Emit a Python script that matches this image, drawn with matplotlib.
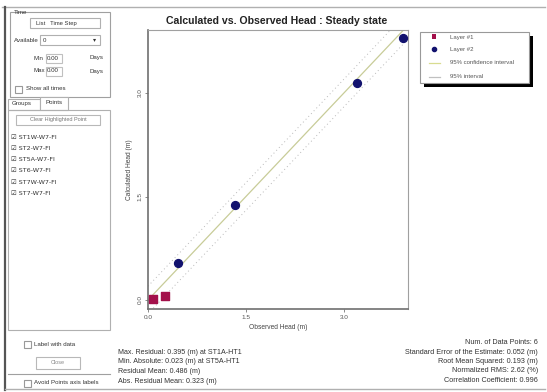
import matplotlib
matplotlib.use("Agg")
import matplotlib.pyplot as plt
from matplotlib.patches import Rectangle
from matplotlib.lines import Line2D

plt.rcParams['font.family'] = ['Liberation Sans', 'DejaVu Sans']

# ---------------- data ----------------
layer1_obs = [0.08, 0.26]
layer1_calc = [0.02, 0.06]
layer2_obs = [0.46, 1.33, 3.20, 3.90]
layer2_calc = [0.54, 1.38, 3.14, 3.80]
x_ticks = [0.0, 1.5, 3.0]
y_ticks = [0.0, 1.5, 3.0]
tick_labels = ["0.0", "1.5", "3.0"]
conf = 0.20
point_names = ["ST1W-W7-FI", "ST2-W7-FI", "ST5A-W7-FI", "ST6-W7-FI", "ST7W-W7-FI", "ST7-W7-FI"]
left_stats = ["Max. Residual: 0.395 (m) at ST1A-HT1",
              "Min. Absolute: 0.023 (m) at ST5A-HT1",
              "Residual Mean: 0.486 (m)",
              "Abs. Residual Mean: 0.323 (m)"]
right_stats = ["Num. of Data Points: 6",
               "Standard Error of the Estimate: 0.052 (m)",
               "Root Mean Squared: 0.193 (m)",
               "Normalized RMS: 2.62 (%)",
               "Correlation Coefficient: 0.996"]
legend_labels = ["Layer #1", "Layer #2", "95% confidence interval", "95% interval"]

W, H = 547, 392
fig = plt.figure(figsize=(W / 100, H / 100), dpi=100)
fig.patch.set_facecolor("white")

def fx(x):
    return x / W

def fy(y):
    return 1 - y / H

def rect(x0, y0, x1, y1, ec="#a0a0a0", fc="none", lw=0.8, z=1):
    fig.patches.append(Rectangle((fx(x0), fy(y1)), fx(x1) - fx(x0), fy(y0) - fy(y1),
                                 transform=fig.transFigure, ec=ec, fc=fc, lw=lw, zorder=z))

def line(x0, y0, x1, y1, c="#a0a0a0", lw=0.8):
    fig.lines.append(Line2D([fx(x0), fx(x1)], [fy(y0), fy(y1)], transform=fig.transFigure,
                            color=c, lw=lw))

def txt(x, y, s, size=4.6, ha="left", color="#333333", **kw):
    fig.text(fx(x), fy(y), s, fontsize=size, ha=ha, va="center", color=color, **kw)

# ---------- outer frame ----------
line(2, 7, 545, 7, c="#b0b0b0", lw=1.0)
line(5, 7, 5, 390, c="#555555", lw=1.6)
line(5, 389, 545, 389, c="#b0b0b0", lw=1.0)

# ---------- left panel ----------
rect(10, 12, 110, 97)
txt(14, 12, "Time", size=4.4)
rect(30, 18, 100, 28, ec="#b0b0b0")
txt(36, 23, "List   Time Step", size=4.2)
txt(14, 40, "Available", size=4.4)
rect(40, 35, 100, 45, ec="#b0b0b0")
txt(43, 40, "0", size=4.4)
txt(96, 40, "▾", size=4.4, ha="right")
txt(34, 58, "Min", size=4.4)
rect(46, 54, 62, 63, ec="#c0c0c0")
txt(47, 58, "0.00", size=4.4)
txt(90, 58, "Days", size=4.4)
txt(34, 71, "Max", size=4.4)
rect(46, 67, 62, 76, ec="#c0c0c0")
txt(47, 71, "0.00", size=4.4)
txt(90, 71, "Days", size=4.4)
rect(15, 86, 22, 93, ec="#999999")
txt(26, 89, "Show all times", size=4.4)

# tabs
rect(8, 99, 40, 110, ec="#b0b0b0")
txt(12, 104, "Groups", size=4.4)
rect(40, 97, 68, 110, ec="#b0b0b0", fc="white")
txt(45, 103, "Points", size=4.4)
rect(8, 110, 110, 330, ec="#b0b0b0")
rect(16, 115, 100, 125, ec="#b8b8b8")
txt(58, 120, "Clear Highlighted Point", size=4.0, ha="center", color="#777777")
for i, name in enumerate(point_names):
    txt(11, 137 + i * 11.3, "\u2611 " + name, size=4.6, family=['DejaVu Sans'])

rect(24, 341, 31, 348, ec="#999999")
txt(34, 345, "Label with data", size=4.4)
rect(36, 357, 80, 369, ec="#b8b8b8")
txt(58, 363, "Close", size=4.0, ha="center", color="#888888")
line(8, 374, 110, 374)
rect(24, 380, 31, 387, ec="#999999")
txt(34, 383, "Avoid Points axis labels", size=4.4)

# ---------- chart ----------
fig.text(fx(277), fy(21), "Calculated vs. Observed Head : Steady state",
         fontsize=7.6, fontweight="bold", ha="center", va="center", color="#222222")

ax = fig.add_axes([fx(148), fy(309), fx(408) - fx(148), fy(30) - fy(309)])
xmin, xmax = 0.0, 260 / 65.3
ymin, ymax = -9 / 69, 270 / 69
ax.set_xlim(xmin, xmax)
ax.set_ylim(ymin, ymax)
xs = [xmin, xmax]
ax.plot(xs, xs, color="#c8cc98", lw=0.9, zorder=2)
ax.plot(xs, [v + conf for v in xs], color="#b8b8b8", lw=0.7, ls=(0, (1, 3)), zorder=2)
ax.plot(xs, [v - conf for v in xs], color="#b8b8b8", lw=0.7, ls=(0, (1, 3)), zorder=2)
ax.scatter(layer1_obs, layer1_calc, marker="s", s=36, color="#a3104a", zorder=3, clip_on=False)
ax.scatter(layer2_obs, layer2_calc, marker="o", s=32, color="#12126e", zorder=3, clip_on=False)
ax.set_xticks(x_ticks)
ax.set_xticklabels(tick_labels, fontsize=4.6, color="#555555")
ax.set_yticks(y_ticks)
ax.set_yticklabels(tick_labels, fontsize=4.6, color="#555555", rotation=90, va="center")
ax.tick_params(length=2, width=0.6, color="#777777", pad=2)
for s in ["left", "bottom"]:
    ax.spines[s].set_color("#707070")
    ax.spines[s].set_linewidth(1.2)
for s in ["top", "right"]:
    ax.spines[s].set_color("#a0a0a0")
    ax.spines[s].set_linewidth(0.8)
ax.set_xlabel("Observed Head (m)", fontsize=4.8, color="#444444", labelpad=3)
ax.set_ylabel("Calculated Head (m)", fontsize=4.8, color="#444444", labelpad=3)

# ---------- legend ----------
rect(424, 36, 533, 87, ec="none", fc="black", z=2)
rect(420, 32, 529, 83, ec="#999999", fc="white", lw=0.8, z=3)
fig.patches.append(Rectangle((fx(432), fy(38.5)), fx(436) - fx(432), fy(34.5) - fy(38.5),
                             transform=fig.transFigure, fc="#a3104a", ec="none", zorder=4))
fig.lines.append(Line2D([fx(434)], [fy(49)], marker="o", ms=3, color="#12126e",
                        transform=fig.transFigure, zorder=4))
fig.lines.append(Line2D([fx(429), fx(440)], [fy(63), fy(63)], color="#d8dc90", lw=0.9,
                        transform=fig.transFigure, zorder=4))
fig.lines.append(Line2D([fx(429), fx(440)], [fy(77), fy(77)], color="#c0c0c0", lw=0.9,
                        transform=fig.transFigure, zorder=4))
for i, lab in enumerate(legend_labels):
    fig.text(fx(450), fy([37, 49, 63, 77][i]), lab, fontsize=4.3, va="center",
             color="#555555", zorder=5)

# ---------- statistics ----------
for i, s in enumerate(left_stats):
    txt(118, 352 + i * 9.7, s, size=5.1)
for i, s in enumerate(right_stats):
    txt(538, 343 + i * 9.3, s, size=5.2, ha="right")

fig.savefig("out.png", dpi=100, facecolor="white")
